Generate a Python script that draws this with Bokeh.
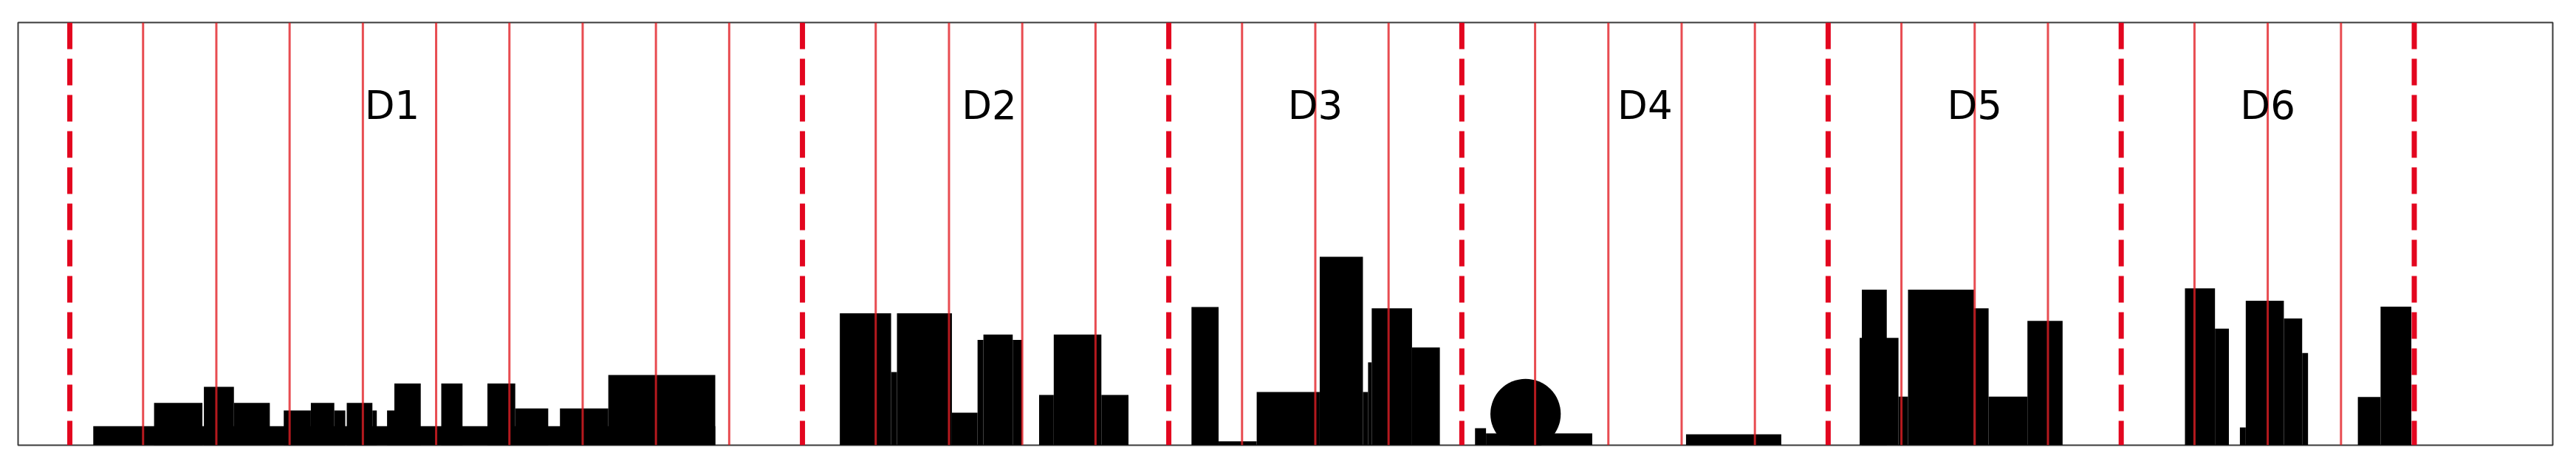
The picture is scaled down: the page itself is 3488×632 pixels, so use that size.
from bokeh.plotting import figure
from bokeh.embed import file_html
from bokeh.resources import INLINE
from bokeh.core.properties import value

# ---- data -------------------------------------------------------------
groups = ["D1", "D2", "D3", "D4", "D5", "D6"]
group_edges = [0, 10, 15, 19, 24, 28, 32]
label_x = [4.4, 12.55, 17.0, 21.5, 26.0, 30.0]
label_y = [80.4, 80.4, 80.4, 80.4, 80.4, 80.4]

# skyline blocks (x in grid units, height in % of frame)
bar_left = [
    # D1
    0.32, 1.15, 1.83, 2.24, 2.92, 3.29, 3.61, 3.78, 4.13, 4.33, 4.43, 5.07, 5.70, 6.08, 6.69, 7.35,
    # D2
    10.51, 11.21, 11.29, 12.04, 12.39, 12.47, 12.87, 13.23, 13.43, 14.08,
    # D3
    15.31, 15.68, 16.20, 17.06, 17.65, 17.72, 17.77, 18.32,
    # D4
    19.18, 19.33, 22.06,
    # D5
    24.43, 24.46, 24.96, 25.09, 25.99, 26.19, 26.72,
    # D6
    28.87, 29.28, 29.62, 29.70, 30.22, 30.47, 31.23, 31.54,
]
bar_right = [
    8.81, 1.81, 2.24, 2.73, 3.29, 3.61, 3.76, 4.13, 4.19, 4.43, 4.79, 5.36, 6.08, 6.53, 7.35, 8.81,
    11.21, 11.29, 12.04, 12.39, 12.47, 12.87, 13.00, 13.43, 14.08, 14.45,
    15.68, 16.20, 17.06, 17.65, 17.72, 17.77, 18.32, 18.70,
    19.33, 20.78, 23.36,
    24.96, 24.80, 25.09, 25.99, 26.19, 26.72, 27.20,
    29.28, 29.47, 29.70, 30.22, 30.47, 30.55, 31.54, 31.96,
]
bar_top = [
    4.5, 10.0, 13.8, 10.0, 8.2, 10.0, 8.2, 10.0, 8.2, 8.2, 14.6, 14.6, 14.6, 8.7, 8.7, 16.6,
    31.2, 17.3, 31.2, 7.7, 24.9, 26.2, 24.9, 11.9, 26.2, 11.9,
    32.7, 0.9, 12.6, 44.6, 12.6, 19.6, 32.4, 23.1,
    4.0, 2.8, 2.6,
    25.4, 36.8, 11.5, 36.8, 32.4, 11.5, 29.4,
    37.1, 27.6, 4.2, 34.2, 30.0, 21.8, 11.4, 32.8,
]

# round "dome" in D4
dome_x = [19.87]
dome_y = [7.4]
dome_w = [0.96]
dome_h = [16.6]

# ---- figure -------------------------------------------------------------
p = figure(
    width=3472, height=616,
    x_range=(-0.706, 33.89), y_range=(0, 100),
    x_axis_type=None, y_axis_type=None,
    output_backend="svg", toolbar_location=None,
    min_border_left=24, min_border_right=16,
    min_border_top=30, min_border_bottom=14,
)
p.grid.visible = False
p.outline_line_color = "#3a3a3a"
p.outline_line_width = 2
p.background_fill_color = "white"
p.border_fill_color = "white"

p.quad(left=bar_left, right=bar_right, bottom=[0] * len(bar_top), top=bar_top,
       fill_color="black", line_color=None)
p.ellipse(x=dome_x, y=dome_y, width=dome_w, height=dome_h,
          fill_color="black", line_color=None)

thin_x = [i for i in range(group_edges[0], group_edges[-1] + 1) if i not in group_edges]
p.segment(x0=thin_x, y0=[100] * len(thin_x), x1=thin_x, y1=[0] * len(thin_x),
          line_color="#e21f26", line_alpha=0.8, line_width=3)
p.segment(x0=group_edges, y0=[100] * len(group_edges), x1=group_edges, y1=[0] * len(group_edges),
          line_color="#e3061f", line_width=7, line_dash="36 13")

p.text(x=label_x, y=label_y, text=groups, text_align="center", text_baseline="alphabetic",
       text_font=value("DejaVu Sans"), text_font_size="53px", text_color="#000000")

open("out.html", "w").write(file_html(p, INLINE))
